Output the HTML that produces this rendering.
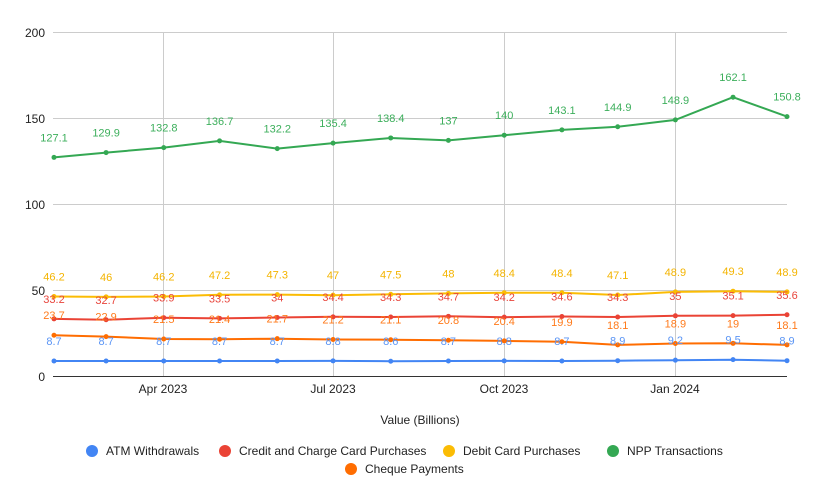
<!DOCTYPE html>
<html><head><meta charset="utf-8"><style>
body{margin:0;background:#fff;}
svg{display:block;font-family:"Liberation Sans",Arial,sans-serif;}
</style></head><body>
<svg id="c" width="813" height="502" viewBox="0 0 813 502" xmlns="http://www.w3.org/2000/svg">
<rect width="813" height="502" fill="#fff"/>
<g stroke="#ccc" stroke-width="1">
<line x1="53" y1="32.5" x2="787" y2="32.5"/>
<line x1="53" y1="118.5" x2="787" y2="118.5"/>
<line x1="53" y1="204.5" x2="787" y2="204.5"/>
<line x1="53" y1="290.5" x2="787" y2="290.5"/>
<line x1="163.5" y1="32" x2="163.5" y2="376"/>
<line x1="333.5" y1="32" x2="333.5" y2="376"/>
<line x1="504.5" y1="32" x2="504.5" y2="376"/>
<line x1="675.5" y1="32" x2="675.5" y2="376"/>
</g>
<line x1="53" y1="376.5" x2="787" y2="376.5" stroke="#333" stroke-width="1"/>
<g font-size="12" fill="#222" text-anchor="end">
<text x="45" y="37">200</text><text x="45" y="123">150</text><text x="45" y="209">100</text><text x="45" y="295">50</text><text x="45" y="381">0</text>
</g>
<g font-size="12" fill="#222" text-anchor="middle">
<text x="163" y="393">Apr 2023</text><text x="333" y="393">Jul 2023</text><text x="504" y="393">Oct 2023</text><text x="675" y="393">Jan 2024</text>
<text x="420" y="424">Value (Billions)</text>
</g>
<g id="series"></g>
<g font-size="12" fill="#222">
<circle cx="92" cy="451" r="6" fill="#4285F4"/><text x="106" y="455">ATM Withdrawals</text>
<circle cx="225" cy="451" r="6" fill="#EA4335"/><text x="239" y="455">Credit and Charge Card Purchases</text>
<circle cx="449" cy="451" r="6" fill="#FBBC04"/><text x="463" y="455">Debit Card Purchases</text>
<circle cx="613" cy="451" r="6" fill="#34A853"/><text x="627" y="455">NPP Transactions</text>
<circle cx="351" cy="469" r="6" fill="#FF6D01"/><text x="365" y="473">Cheque Payments</text>
</g>
</svg>
<script>
var days=[0,28,59,89,120,150,181,212,242,273,303,334,365,394];
var xs=days.map(function(d){return 54+d*733/394;});
function y(v){return 376-v*1.72;}
var S=[
["#FBBC04","#F4B400",[46.2,46,46.2,47.2,47.3,47,47.5,48,48.4,48.4,47.1,48.9,49.3,48.9]],
["#EA4335","#E8453C",[33.2,32.7,33.9,33.5,34,34.4,34.3,34.7,34.2,34.6,34.3,35,35.1,35.6]],
["#FF6D01","#FF7A1A",[23.7,22.9,21.5,21.4,21.7,21.2,21.1,20.8,20.4,19.9,18.1,18.9,19,18.1]],
["#4285F4","#5B95F5",[8.7,8.7,8.7,8.7,8.7,8.8,8.6,8.7,8.8,8.7,8.9,9.2,9.5,8.9]],
["#34A853","#3DAF5C",[127.1,129.9,132.8,136.7,132.2,135.4,138.4,137,140,143.1,144.9,148.9,162.1,150.8]]
];
var g=document.getElementById("series"),h="";
S.forEach(function(s){
 var pts=s[2].map(function(v,i){return xs[i].toFixed(1)+","+y(v).toFixed(1);}).join(" ");
 h+='<polyline points="'+pts+'" fill="none" stroke="'+s[0]+'" stroke-width="2"/>';
 s[2].forEach(function(v,i){h+='<circle cx="'+xs[i]+'" cy="'+y(v)+'" r="2.5" fill="'+s[0]+'"/>';});
});
S.forEach(function(s){
 s[2].forEach(function(v,i){h+='<text x="'+xs[i]+'" y="'+(y(v)-16)+'" font-size="11" text-anchor="middle" fill="'+s[1]+'">'+v+'</text>';});
});
g.innerHTML=h;
</script>
</body></html>
